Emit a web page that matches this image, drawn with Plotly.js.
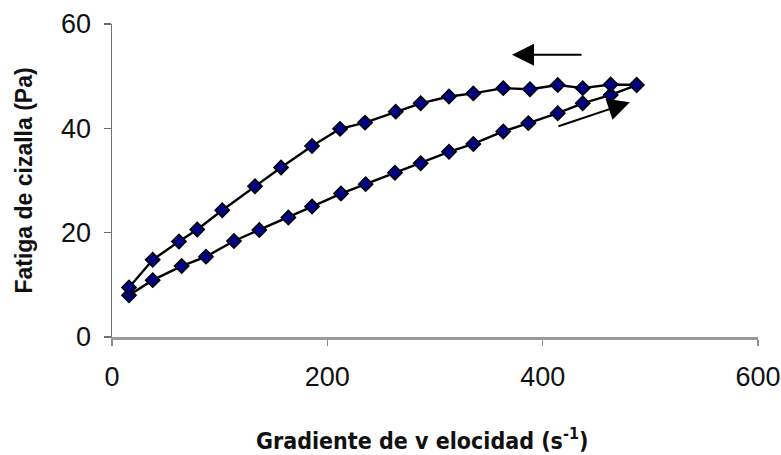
<!DOCTYPE html>
<html>
<head>
<meta charset="utf-8">
<script src="https://cdn.plot.ly/plotly-3.0.1.min.js"></script>
<style>html,body{margin:0;padding:0;background:#fff;}#chart{width:781px;height:455px;}</style>
</head>
<body>
<div id="chart"></div>
<script>
// Ascending branch (shear rate increasing)
const upShearRate = [15.8, 37.8, 64.7, 87.3, 113.3, 136.8, 163.8, 185.8, 212.7, 235.6, 262.8, 286.7, 313.0, 335.6, 363.4, 386.7, 414.0, 437.2, 463.2, 487.3];
const upStress    = [8.0, 10.9, 13.6, 15.4, 18.4, 20.5, 22.9, 25.0, 27.5, 29.3, 31.5, 33.3, 35.5, 37.0, 39.4, 41.0, 42.9, 44.8, 46.4, 48.3];
// Descending branch (shear rate decreasing)
const downShearRate = [487.3, 463.2, 437.2, 414.0, 388.2, 363.4, 335.6, 313.0, 286.7, 263.5, 235.0, 211.8, 185.8, 157.0, 132.8, 102.4, 79.2, 62.2, 37.8, 15.8];
const downStress    = [48.3, 48.4, 47.7, 48.3, 47.5, 47.7, 46.7, 46.1, 44.8, 43.2, 41.1, 39.9, 36.6, 32.5, 28.9, 24.3, 20.6, 18.3, 14.8, 9.5];
const xTicks = [0, 200, 400, 600];
const yTicks = [0, 20, 40, 60];

const markerStyle = {symbol: 'diamond', size: 11, color: '#000080', line: {color: '#000000', width: 1.5}};
const lineStyle = {color: '#000000', width: 2.4};

const traces = [
  {x: upShearRate, y: upStress, mode: 'lines+markers', line: lineStyle, marker: markerStyle, showlegend: false, cliponaxis: false},
  {x: downShearRate, y: downStress, mode: 'lines+markers', line: lineStyle, marker: markerStyle, showlegend: false, cliponaxis: false}
];

const tickFont = {family: 'Liberation Sans, Arial, sans-serif', size: 27, color: '#111111'};

const layout = {
  width: 781, height: 455,
  margin: {l: 112, r: 23, t: 24, b: 118},
  paper_bgcolor: '#ffffff', plot_bgcolor: '#ffffff',
  font: {family: 'Liberation Sans, Arial, sans-serif', color: '#111111'},
  showlegend: false,
  xaxis: {
    range: [0, 600], tickvals: xTicks, ticktext: xTicks.map(String),
    showgrid: false, zeroline: false, showline: true, linecolor: '#9a9a9a', linewidth: 3,
    ticks: 'outside', ticklen: 6, tickcolor: '#8c8c8c', tickwidth: 1.5,
    tickfont: tickFont, ticklabelstandoff: 8
  },
  yaxis: {
    range: [0, 60], tickvals: yTicks, ticktext: yTicks.map(String),
    showgrid: false, zeroline: false, showline: true, linecolor: '#6e6e6e', linewidth: 1.5,
    ticks: 'outside', ticklen: 7, tickcolor: '#6e6e6e', tickwidth: 1.5,
    tickfont: tickFont, ticklabelstandoff: 7,
    title: {text: '<b>Fatiga de cizalla (Pa)</b>', font: {family: 'Liberation Sans, Arial, sans-serif', size: 23, color: '#111111'}, standoff: 22}
  },
  annotations: [
    {x: 0.481, y: -0.325, xref: 'paper', yref: 'paper', xanchor: 'center', yanchor: 'middle', showarrow: false,
     text: '<b>Gradiente de v elocidad (s<sup>-1</sup>)</b>',
     font: {family: 'Liberation Sans Narrow, DejaVu Sans Condensed, Arial Narrow, sans-serif', size: 23, color: '#111111'}},
    {x: 371.5, y: 54.1, ax: 437.5, ay: 54.1, xref: 'x', yref: 'y', axref: 'x', ayref: 'y',
     text: '', showarrow: true, arrowhead: 2, arrowsize: 2.2, arrowwidth: 2, arrowcolor: '#000000'},
    {x: 481, y: 45.0, ax: 413.3, ay: 40.3, xref: 'x', yref: 'y', axref: 'x', ayref: 'y',
     text: '', showarrow: true, arrowhead: 2, arrowsize: 2.2, arrowwidth: 2, arrowcolor: '#000000'}
  ]
};

Plotly.newPlot('chart', traces, layout, {displayModeBar: false, staticPlot: true});
</script>
</body>
</html>
